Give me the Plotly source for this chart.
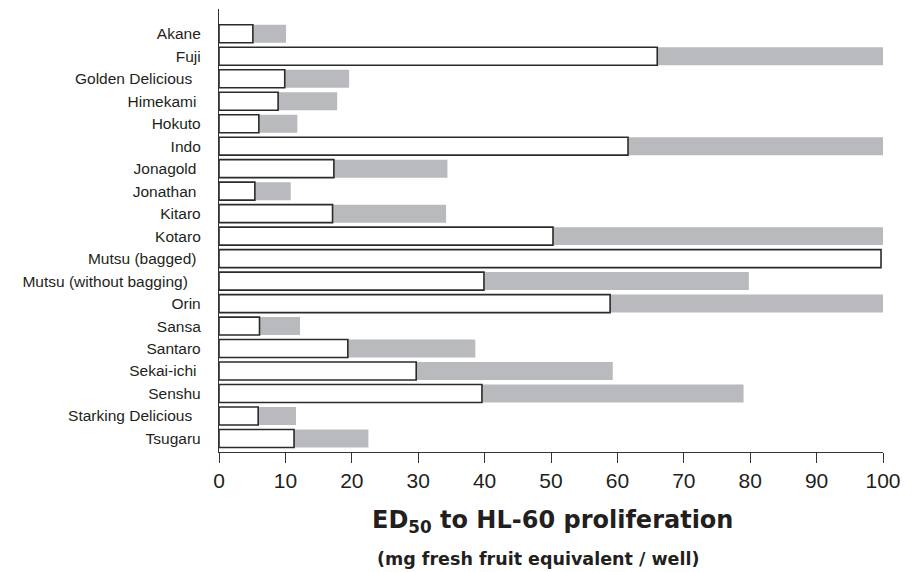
import plotly.graph_objects as go

cultivars = ["Akane", "Fuji", "Golden Delicious", "Himekami", "Hokuto", "Indo",
             "Jonagold", "Jonathan", "Kitaro", "Kotaro", "Mutsu (bagged)",
             "Mutsu (without bagging)", "Orin", "Sansa", "Santaro", "Sekai-ichi",
             "Senshu", "Starking Delicious", "Tsugaru"]
ed50 = [5.1, 66.0, 9.9, 8.9, 6.0, 61.6, 17.3, 5.4, 17.1, 50.3, 99.7,
        39.9, 58.9, 6.1, 19.4, 29.7, 39.6, 5.9, 11.3]
upper = [10.1, 100, 19.6, 17.8, 11.8, 100, 34.4, 10.8, 34.2, 100, 99.7,
         79.8, 100, 12.2, 38.6, 59.3, 79.0, 11.6, 22.5]
label_pad = [0, 0, 2, 1, 0, 0, 1, 1, 0, 0, 1, 3, 0, 0, 0, 1, 0, 2, 0]
tick_labels = [c + "\u00a0" * p for c, p in zip(cultivars, label_pad)]
x_ticks = [0, 10, 20, 30, 40, 50, 60, 70, 80, 90, 100]

ink = "#231f20"
fig = go.Figure()
fig.add_trace(go.Bar(y=cultivars, x=upper, orientation="h", width=0.8,
                     marker=dict(color="#b9babd", line=dict(width=0)),
                     showlegend=False))
fig.add_trace(go.Bar(y=cultivars, x=ed50, orientation="h", width=0.8,
                     marker=dict(color="white", line=dict(color="#2b2b2b", width=1.6)),
                     showlegend=False))
fig.update_layout(
    barmode="overlay",
    width=916, height=572,
    margin=dict(l=219, r=33, t=9, b=120),
    plot_bgcolor="white", paper_bgcolor="white",
    font=dict(family="Liberation Sans, Arial, sans-serif", color=ink),
    xaxis=dict(range=[0, 100], tickvals=x_ticks, ticks="outside", ticklen=10,
               tickwidth=1.3, tickcolor="#333333", showline=True, linecolor="#333333",
               linewidth=1.3, showgrid=False, zeroline=False,
               tickfont=dict(size=21, color=ink)),
    yaxis=dict(type="category", categoryorder="array", categoryarray=cultivars,
               range=[18.6, -1.1], tickvals=cultivars, ticktext=tick_labels,
               ticks="", showline=True, linecolor="#333333", linewidth=1.3,
               showgrid=False, zeroline=False, ticklabelstandoff=14,
               tickfont=dict(size=15.5, color=ink)),
    annotations=[
        dict(text="<b>ED<sub>50</sub> to HL-60 proliferation</b>", xref="paper", yref="paper",
             x=0.502, y=-0.158, xanchor="center", yanchor="middle", showarrow=False,
             font=dict(family="DejaVu Sans", size=24, color=ink)),
        dict(text="<b>(mg fresh fruit equivalent / well)</b>", xref="paper", yref="paper",
             x=0.48, y=-0.242, xanchor="center", yanchor="middle", showarrow=False,
             font=dict(family="DejaVu Sans", size=17.5, color=ink)),
    ],
)
fig.write_html("out.html", config={"displayModeBar": False},
               post_script="document.body.style.margin='0';")
